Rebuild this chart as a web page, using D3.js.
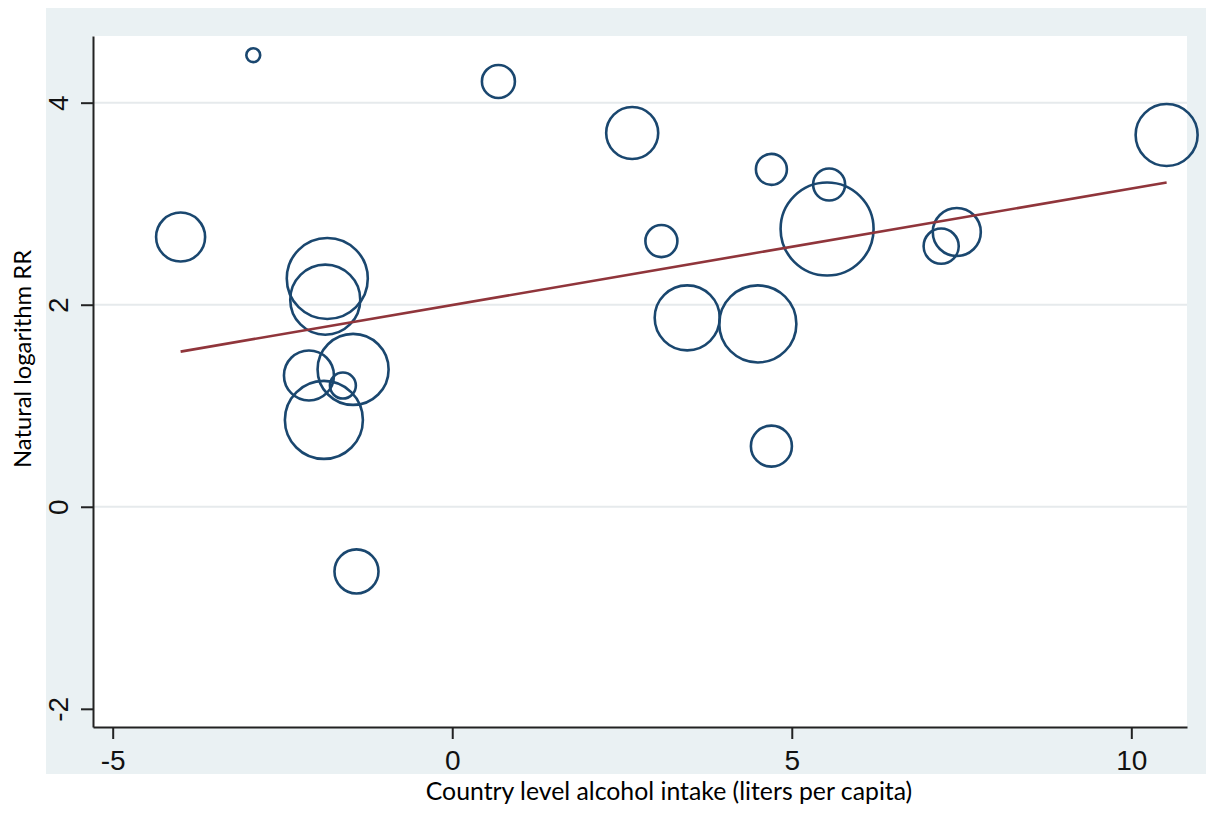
<!DOCTYPE html>
<html>
<head>
<meta charset="utf-8">
<script src="https://cdn.jsdelivr.net/npm/d3@7"></script>
<style>
  html, body { margin: 0; padding: 0; background: #ffffff; }
  svg { display: block; }
</style>
</head>
<body>
<svg id="chart" width="1206" height="819"></svg>
<script>
// Country-level alcohol intake vs. natural log of relative risk, one bubble per study
const intake = [-2.93, 0.68, 2.65, 10.52, 4.70, 5.55, -4.00, -1.84, -1.87, 3.08, 5.52,
                7.43, 7.20, 3.46, 4.50, -2.11, -1.46, -1.61, -1.89, 4.70, -1.41];
const logRR  = [4.47, 4.21, 3.70, 3.68, 3.34, 3.19, 2.67, 2.26, 2.05, 2.63, 2.75,
                2.72, 2.58, 1.87, 1.81, 1.30, 1.36, 1.20, 0.86, 0.60, -0.64];
const weight = [12, 68, 169, 240, 60, 64, 150, 410, 306, 64, 540,
                144, 77, 264, 371, 156, 315, 42, 380, 105, 121];

// Fitted linear trend (endpoints of the fitted line)
const fitX = [-4.00, 10.52];
const fitY = [1.536, 3.21];

const xTicks = [-5, 0, 5, 10];
const yTicks = [-2, 0, 2, 4];
const gridTicks = [0, 2, 4];

const xTitle = "Country level alcohol intake (liters per capita)";
const yTitle = "Natural logarithm RR";

const svg = d3.select("#chart");

// plot geometry
const plot = { left: 93, right: 1187, top: 36, bottom: 727 };

// outer graph region
svg.append("rect")
  .attr("x", 46).attr("y", 8)
  .attr("width", 1206 - 46).attr("height", 774 - 8)
  .attr("fill", "#eaf1f3");

// inner plot region
svg.append("rect")
  .attr("x", plot.left).attr("y", plot.top)
  .attr("width", plot.right - plot.left).attr("height", plot.bottom - plot.top)
  .attr("fill", "#ffffff");

const x = d3.scaleLinear().domain([-5.29, 10.82]).range([plot.left, plot.right]);
const y = d3.scaleLinear().domain([-2.18, 4.66]).range([plot.bottom, plot.top]);
const r = d3.scaleSqrt().domain([0, d3.max(weight)]).range([0, 46.5]);

// plain hyphen-minus labels
const fmt = d => String(d);

// horizontal gridlines
svg.append("g")
  .selectAll("line")
  .data(gridTicks)
  .join("line")
  .attr("x1", plot.left).attr("x2", plot.right)
  .attr("y1", d => y(d)).attr("y2", d => y(d))
  .attr("stroke", "#e6eaec")
  .attr("stroke-width", 2);

// bubbles
const points = intake.map((v, i) => ({ x: v, y: logRR[i], w: weight[i] }));
svg.append("g")
  .selectAll("circle")
  .data(points)
  .join("circle")
  .attr("cx", d => x(d.x))
  .attr("cy", d => y(d.y))
  .attr("r", d => r(d.w))
  .attr("fill", "none")
  .attr("stroke", "#1a476f")
  .attr("stroke-width", 2.6);

// fitted line
const fit = fitX.map((v, i) => [v, fitY[i]]);
svg.append("path")
  .datum(fit)
  .attr("d", d3.line().x(d => x(d[0])).y(d => y(d[1])))
  .attr("fill", "none")
  .attr("stroke", "#90353b")
  .attr("stroke-width", 2.6);

// y axis
const yAxis = svg.append("g")
  .attr("transform", `translate(${plot.left},0)`)
  .call(d3.axisLeft(y).tickValues(yTicks).tickSize(12).tickSizeOuter(0).tickFormat(fmt));
yAxis.select(".domain").attr("stroke", "#222").attr("stroke-width", 2);
yAxis.selectAll(".tick line").attr("stroke", "#222").attr("stroke-width", 2);
yAxis.selectAll(".tick text")
  .attr("x", 0).attr("y", -25).attr("dy", 0)
  .attr("transform", "rotate(-90)")
  .attr("text-anchor", "middle")
  .attr("fill", "#111")
  .style("font-family", "'Liberation Sans', Arial, sans-serif")
  .style("font-size", "28px");

// x axis
const xAxis = svg.append("g")
  .attr("transform", `translate(0,${plot.bottom})`)
  .call(d3.axisBottom(x).tickValues(xTicks).tickSize(12).tickSizeOuter(0).tickFormat(fmt));
xAxis.select(".domain").attr("stroke", "#222").attr("stroke-width", 2);
xAxis.selectAll(".tick line").attr("stroke", "#222").attr("stroke-width", 2);
xAxis.selectAll(".tick text")
  .attr("y", 43).attr("dy", 0)
  .attr("fill", "#111")
  .style("font-family", "'Liberation Sans', Arial, sans-serif")
  .style("font-size", "28px");

// axis titles
svg.append("text")
  .attr("x", 669).attr("y", 800)
  .attr("text-anchor", "middle")
  .attr("fill", "#000")
  .style("font-family", "Lato, 'Open Sans', sans-serif")
  .style("font-size", "24.8px")
  .text(xTitle);

svg.append("text")
  .attr("transform", "translate(31,359) rotate(-90)")
  .attr("text-anchor", "middle")
  .attr("fill", "#000")
  .style("font-family", "Lato, 'Open Sans', sans-serif")
  .style("font-size", "23.8px")
  .text(yTitle);
</script>
</body>
</html>
